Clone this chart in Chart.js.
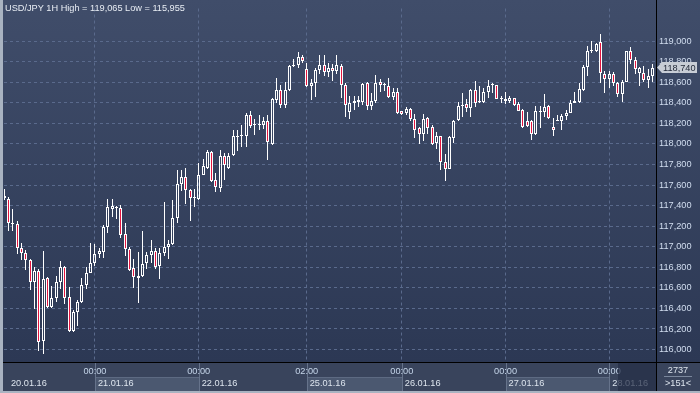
<!DOCTYPE html>
<html>
<head>
<meta charset="utf-8">
<script src="https://cdn.jsdelivr.net/npm/chart.js@4/dist/chart.umd.min.js"></script>
<style>
html, body { margin: 0; padding: 0; background: #39445c; }
#wrap { width: 700px; height: 393px; }
</style>
</head>
<body>
<div id="wrap"><canvas id="chart" width="700" height="393"></canvas></div>
<script>
// USD/JPY 1H — candlestick chart from floating bars

var open = [
  117.47, 117.46, 117.22, 117.22, 116.99, 116.94, 116.87, 116.66, 116.76, 116.08,
  116.70, 116.41, 116.50, 116.66, 116.80, 116.51, 116.18, 116.37, 116.46, 116.63,
  116.74, 116.84, 116.93, 116.95, 117.19, 117.37, 117.38, 117.38, 117.12, 116.98,
  116.79, 116.70, 116.72, 116.84, 116.92, 116.96, 116.81, 116.94, 117.00, 117.03,
  117.28, 117.61, 117.68, 117.55, 117.47, 117.46, 117.70, 117.77, 117.92, 117.65,
  117.57, 117.88, 117.77, 117.89, 118.07, 118.08, 118.08, 118.28, 118.18, 118.18,
  118.18, 118.22, 118.00, 118.43, 118.52, 118.38, 118.52, 118.76, 118.77, 118.84,
  118.73, 118.56, 118.59, 118.72, 118.77, 118.70, 118.74, 118.71, 118.76, 118.57,
  118.31, 118.40, 118.41, 118.41, 118.59, 118.37, 118.42, 118.60, 118.57, 118.56,
  118.46, 118.50, 118.32, 118.30, 118.34, 118.24, 118.15, 118.10, 118.25, 118.16,
  118.01, 118.08, 117.82, 117.76, 118.06, 118.23, 118.37, 118.39, 118.35, 118.52,
  118.41, 118.41, 118.50, 118.57, 118.57, 118.44, 118.44, 118.42, 118.45, 118.39,
  118.33, 118.22, 118.22, 118.10, 118.31, 118.31, 118.37, 118.16, 118.22, 118.22,
  118.27, 118.30, 118.40, 118.41, 118.52, 118.75, 118.90, 118.90, 118.99, 118.68,
  118.63, 118.68, 118.59, 118.48, 118.60, 118.90, 118.82, 118.69, 118.69, 118.62, 118.66
];
var high = [
  117.56, 117.48, 117.37, 117.25, 117.04, 116.97, 116.88, 116.80, 116.78, 116.96,
  116.71, 116.62, 116.72, 116.86, 116.81, 116.61, 116.38, 116.48, 116.70, 116.80,
  117.04, 117.03, 116.99, 117.21, 117.46, 117.46, 117.40, 117.41, 117.23, 117.00,
  116.88, 116.95, 117.15, 116.95, 117.07, 116.99, 116.99, 117.43, 117.07, 117.45,
  117.75, 117.75, 117.77, 117.56, 117.56, 117.81, 117.85, 117.94, 117.93, 117.72,
  117.94, 117.91, 117.91, 118.13, 118.13, 118.18, 118.30, 118.32, 118.24, 118.28,
  118.26, 118.28, 118.45, 118.64, 118.57, 118.60, 118.77, 118.83, 118.89, 118.86,
  118.79, 118.63, 118.74, 118.86, 118.86, 118.79, 118.78, 118.86, 118.78, 118.59,
  118.47, 118.47, 118.47, 118.59, 118.60, 118.49, 118.67, 118.63, 118.59, 118.64,
  118.54, 118.54, 118.32, 118.36, 118.35, 118.29, 118.16, 118.29, 118.26, 118.18,
  118.12, 118.08, 117.90, 118.08, 118.23, 118.41, 118.49, 118.44, 118.53, 118.61,
  118.56, 118.54, 118.62, 118.59, 118.57, 118.47, 118.50, 118.47, 118.45, 118.41,
  118.34, 118.31, 118.23, 118.37, 118.37, 118.48, 118.38, 118.25, 118.28, 118.29,
  118.33, 118.43, 118.50, 118.59, 118.77, 118.95, 119.00, 118.98, 119.065, 118.71,
  118.71, 118.70, 118.60, 118.62, 118.90, 118.94, 118.84, 118.75, 118.76, 118.73, 118.78
];
var low = [
  117.45, 117.15, 117.15, 116.93, 116.87, 116.77, 116.58, 116.39, 115.99, 115.955,
  116.40, 116.40, 116.46, 116.59, 116.44, 116.17, 116.17, 116.23, 116.45, 116.59,
  116.74, 116.81, 116.89, 116.89, 117.13, 117.29, 117.27, 117.08, 116.91, 116.76,
  116.60, 116.45, 116.71, 116.78, 116.84, 116.78, 116.69, 116.91, 116.88, 117.02,
  117.23, 117.54, 117.42, 117.25, 117.39, 117.45, 117.70, 117.76, 117.63, 117.53,
  117.53, 117.65, 117.76, 117.88, 117.93, 117.97, 117.97, 118.15, 118.09, 118.13,
  118.14, 117.84, 117.99, 118.40, 118.35, 118.35, 118.51, 118.75, 118.74, 118.79,
  118.55, 118.43, 118.46, 118.68, 118.66, 118.65, 118.61, 118.68, 118.45, 118.26,
  118.24, 118.33, 118.36, 118.38, 118.33, 118.33, 118.40, 118.50, 118.51, 118.45,
  118.43, 118.29, 118.28, 118.28, 118.22, 118.06, 118.00, 118.03, 118.10, 117.99,
  117.95, 117.75, 117.64, 117.76, 118.01, 118.22, 118.26, 118.31, 118.26, 118.36,
  118.40, 118.40, 118.45, 118.49, 118.44, 118.40, 118.39, 118.40, 118.37, 118.32,
  118.15, 118.16, 118.04, 118.09, 118.15, 118.26, 118.24, 118.08, 118.22, 118.13,
  118.23, 118.30, 118.40, 118.40, 118.51, 118.66, 118.88, 118.89, 118.59, 118.49,
  118.54, 118.56, 118.46, 118.41, 118.60, 118.78, 118.68, 118.56, 118.60, 118.54, 118.60
];
var close = [
  117.49, 117.23, 117.23, 116.99, 116.94, 116.87, 116.66, 116.76, 116.07, 116.69,
  116.41, 116.50, 116.66, 116.80, 116.50, 116.18, 116.37, 116.46, 116.63, 116.74,
  116.84, 116.93, 116.96, 117.19, 117.39, 117.40, 117.39, 117.11, 116.98, 116.77,
  116.71, 116.72, 116.83, 116.92, 116.96, 116.80, 116.94, 117.00, 117.03, 117.28,
  117.61, 117.68, 117.55, 117.47, 117.48, 117.70, 117.78, 117.92, 117.64, 117.58,
  117.88, 117.79, 117.88, 118.08, 118.08, 118.09, 118.28, 118.17, 118.19, 118.19,
  118.22, 118.02, 118.44, 118.52, 118.38, 118.52, 118.76, 118.77, 118.84, 118.81,
  118.56, 118.59, 118.72, 118.77, 118.70, 118.74, 118.71, 118.77, 118.57, 118.38,
  118.40, 118.42, 118.43, 118.58, 118.37, 118.42, 118.59, 118.57, 118.58, 118.46,
  118.50, 118.30, 118.29, 118.34, 118.24, 118.13, 118.10, 118.24, 118.15, 118.00,
  118.08, 117.82, 117.76, 118.07, 118.22, 118.37, 118.38, 118.35, 118.52, 118.40,
  118.42, 118.50, 118.56, 118.58, 118.44, 118.45, 118.42, 118.45, 118.38, 118.32,
  118.16, 118.17, 118.10, 118.32, 118.32, 118.36, 118.25, 118.13, 118.23, 118.27,
  118.30, 118.40, 118.42, 118.53, 118.75, 118.90, 118.91, 118.97, 118.69, 118.63,
  118.68, 118.59, 118.48, 118.60, 118.90, 118.82, 118.73, 118.74, 118.62, 118.66, 118.74
];

// time axis: candle index of each labelled hour and of each day start
var gridIdx    = [21, 45, 70, 92, 116, 140];
var gridLabels = ['00:00', '00:00', '02:00', '00:00', '00:00', '00:00'];
var dayIdx     = [0, 21, 45, 70, 92, 116, 140];
var dayLabels  = ['20.01.16', '21.01.16', '22.01.16', '25.01.16', '26.01.16', '27.01.16', '28.01.16'];

var barCount = '2737';
var visibleBars = '>151<';

var FONT = 'Liberation Sans, Arial, sans-serif';
var RED = '#e3153f';

function fmt(v) { return v.toFixed(3).replace('.', ','); }

var upperWick = [], lowerWick = [], bodies = [], bodyFill = [];
open.forEach(function (o, i) {
    var top = Math.max(o, close[i]), bot = Math.min(o, close[i]);
    upperWick.push({ x: i, y: [top, high[i]] });
    lowerWick.push({ x: i, y: [low[i], bot] });
    bodies.push({ x: i, y: [bot, top] });
    bodyFill.push(close[i] < o ? RED : 'rgba(0,0,0,0)');
});

var title = 'USD/JPY 1H High = ' + fmt(Math.max.apply(null, high)) +
            ' Low = ' + fmt(Math.min.apply(null, low));

// ── snap bar elements to whole pixels so the candles stay crisp ──────────
var snapPlugin = {
    id: 'snap',
    beforeDatasetsDraw: function (chart) {
        chart.data.datasets.forEach(function (ds, di) {
            var isBody = di === 2;
            chart.getDatasetMeta(di).data.forEach(function (el) {
                el.x = Math.floor(el.x) + 0.5;
                el.y = Math.round(el.y);
                el.base = Math.round(el.base);
                if (isBody && Math.abs(el.base - el.y) < 1) el.y = el.base - 1;
            });
        });
    }
};

// ── backgrounds, bottom time panel, title and price tag ──────────────────
var framePlugin = {
    id: 'frame',
    beforeDraw: function (chart) {
        var ctx = chart.ctx, a = chart.chartArea;
        ctx.save();
        ctx.fillStyle = '#39445c';
        ctx.fillRect(0, 0, chart.width, chart.height);
        var g = ctx.createLinearGradient(0, 0, 0, a.bottom);
        g.addColorStop(0, '#404d6a');
        g.addColorStop(1, '#2c3854');
        ctx.fillStyle = g;
        ctx.fillRect(0, 0, chart.width, a.bottom);
        ctx.restore();
    },
    afterDraw: function (chart) {
        var ctx = chart.ctx, a = chart.chartArea;
        var xs = chart.scales.x, ys = chart.scales.y;
        var W = chart.width, H = chart.height;
        ctx.save();

        // date boxes (alternating)
        for (var k = 0; k < dayIdx.length; k++) {
            var x0 = Math.round(xs.getPixelForValue(dayIdx[k]));
            var x1 = k + 1 < dayIdx.length ? Math.round(xs.getPixelForValue(dayIdx[k + 1])) : a.right;
            if (k % 2 === 1) {
                ctx.fillStyle = '#4b5870';
                ctx.fillRect(x0, 377, x1 - x0, 14);
                ctx.fillStyle = '#5d6a82';
                ctx.fillRect(x0, 377, x1 - x0, 1);
            }
            if (k > 0) {
                ctx.fillStyle = '#66738b';
                ctx.fillRect(x0, a.bottom, 1, H - a.bottom);
            }
        }

        ctx.font = '9.2px ' + FONT;
        ctx.textBaseline = 'middle';

        // hour labels
        ctx.fillStyle = '#c6d6ea';
        ctx.textAlign = 'center';
        gridIdx.forEach(function (v, i) {
            ctx.fillText(gridLabels[i], xs.getPixelForValue(v), 371.5);
        });

        // day labels
        ctx.fillStyle = '#dde5ee';
        ctx.textAlign = 'left';
        dayIdx.forEach(function (v, i) {
            ctx.fillText(dayLabels[i], Math.max(xs.getPixelForValue(v) + 3, 11), 383.5);
        });

        // shaded last-day marker
        ctx.fillStyle = 'rgba(36,46,70,0.72)';
        ctx.fillRect(618, a.bottom + 1, a.right - 618, 28);

        // counter box bottom right
        ctx.fillStyle = '#dde5ee';
        ctx.textAlign = 'center';
        ctx.fillText(barCount, 678, 370);
        ctx.fillText(visibleBars, 678, 383);
        ctx.fillStyle = '#7a879c';
        ctx.fillRect(664, 376, 28, 1);

        // frame lines
        ctx.fillStyle = '#000000';
        ctx.fillRect(0, a.bottom, W, 1);
        ctx.fillRect(a.right, 0, 1, H);
        ctx.fillStyle = '#a9b3c1';
        ctx.fillRect(0, 0, 3, H);
        ctx.fillRect(0, H - 2, W, 2);

        // title
        ctx.fillStyle = '#e8edf4';
        ctx.textAlign = 'left';
        ctx.fillText(title, 5, 8);

        // last price tag
        var last = close[close.length - 1];
        var py = Math.round(ys.getPixelForValue(last)) - 0.5;
        var tx = a.right + 1;
        ctx.beginPath();
        ctx.moveTo(tx, py);
        ctx.lineTo(tx + 5, py - 5.5);
        ctx.lineTo(697, py - 5.5);
        ctx.lineTo(697, py + 5.5);
        ctx.lineTo(tx + 5, py + 5.5);
        ctx.closePath();
        ctx.fillStyle = '#c8cdd6';
        ctx.fill();
        ctx.fillStyle = '#1e2535';
        ctx.fillText(fmt(last), tx + 6, py + 0.5);

        ctx.restore();
    }
};

var barBase = {
    type: 'bar',
    grouped: false,
    borderSkipped: false,
    inflateAmount: 0
};

new Chart(document.getElementById('chart'), {
    type: 'bar',
    data: {
        datasets: [
            Object.assign({}, barBase, { data: upperWick, barThickness: 1, backgroundColor: '#ffffff', borderWidth: 0 }),
            Object.assign({}, barBase, { data: lowerWick, barThickness: 1, backgroundColor: '#ffffff', borderWidth: 0 }),
            Object.assign({}, barBase, { data: bodies, barThickness: 3, backgroundColor: bodyFill, borderColor: '#ffffff', borderWidth: 1 })
        ]
    },
    options: {
        responsive: false,
        animation: false,
        layout: { padding: { left: 4, top: 0, right: 0, bottom: 0 } },
        plugins: { legend: { display: false }, tooltip: { enabled: false }, title: { display: false } },
        scales: {
            x: {
                type: 'linear',
                min: -0.046,
                max: 150.81,
                offset: false,
                grid: { offset: false, color: '#5a6a8c', drawTicks: false },
                border: { display: false, dash: [3, 3] },
                ticks: { display: false },
                afterBuildTicks: function (s) {
                    s.ticks = gridIdx.map(function (v) { return { value: v }; });
                },
                afterFit: function (s) { s.height = 31; }
            },
            y: {
                position: 'right',
                min: 115.879,
                max: 119.316,
                beginAtZero: false,
                grid: { color: '#5a6a8c', drawTicks: false },
                border: { display: false, dash: [3, 3] },
                ticks: {
                    stepSize: 0.2,
                    maxTicksLimit: 40,
                    includeBounds: false,
                    padding: 3,
                    color: '#d2def0',
                    font: { family: FONT, size: 9.2 },
                    callback: function (v) { return fmt(v); }
                },
                afterBuildTicks: function (s) {
                    s.ticks = s.ticks.filter(function (t) { return t.value > 115.999 && t.value < 119.001; });
                },
                afterFit: function (s) { s.width = 44; }
            }
        }
    },
    plugins: [snapPlugin, framePlugin]
});
</script>
</body>
</html>
